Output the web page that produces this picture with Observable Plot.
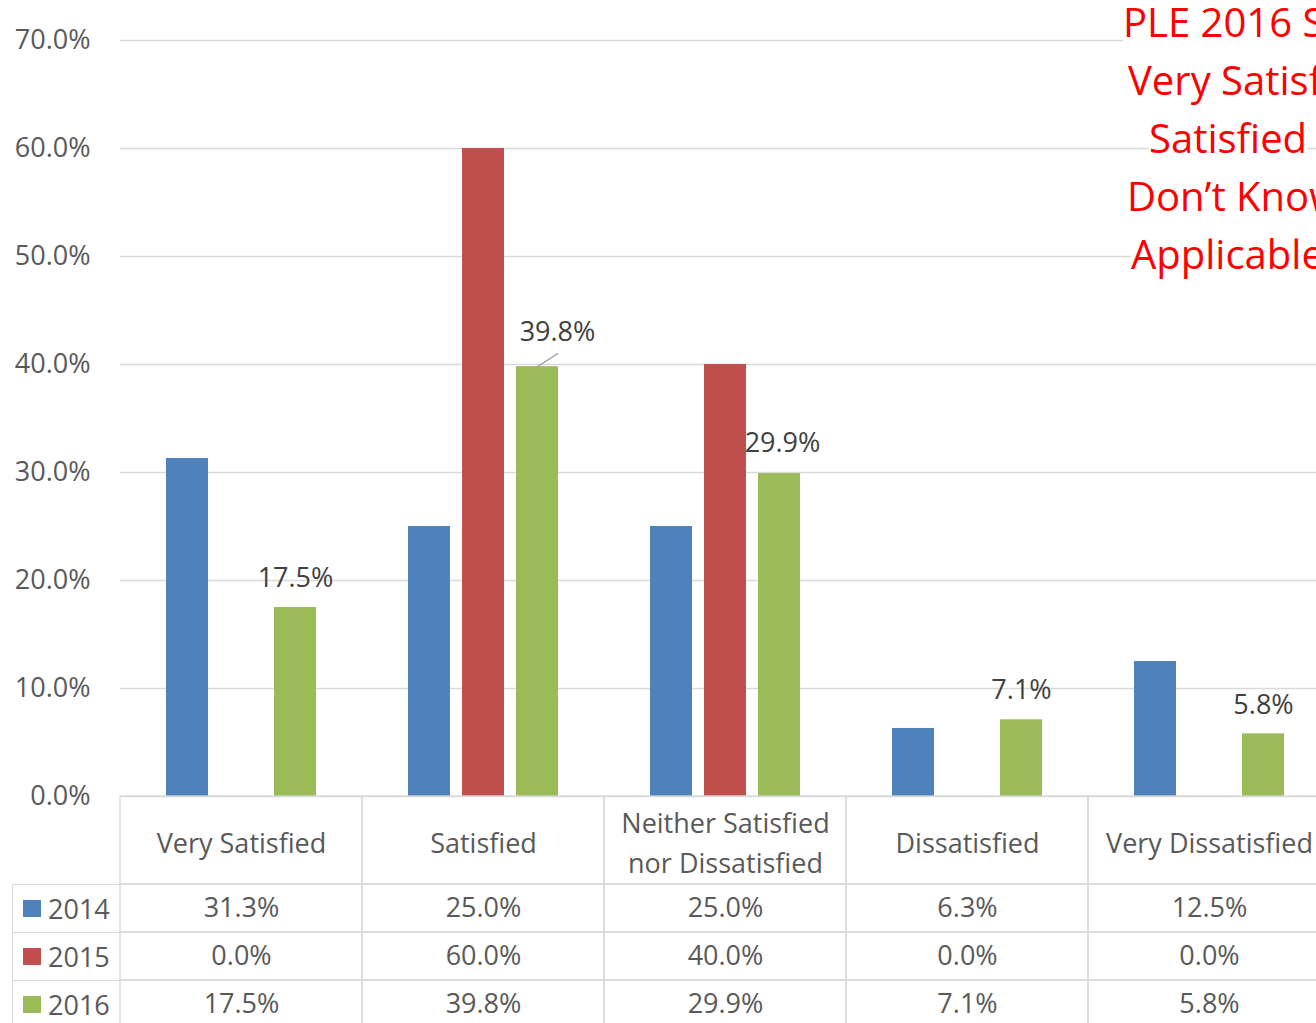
<!DOCTYPE html>
<html><head><meta charset="utf-8">
<script src="https://cdn.jsdelivr.net/npm/d3@7"></script>
<script src="https://cdn.jsdelivr.net/npm/@observablehq/plot@0.6"></script>
<style>
html,body{margin:0;padding:0;background:#fff;overflow:hidden;width:1316px;height:1023px}
body{position:relative;font-family:"Open Sans",sans-serif}
svg{max-width:none!important}
#chart,#header,#rows{position:absolute;left:0}
#chart{top:0}#header{top:796px}#rows{top:884px}
#legend{position:absolute;left:12px;top:884px;width:108px}
.lrow{height:48px;border-left:1.3px solid #d9d9d9;border-top:1.3px solid #d9d9d9;box-sizing:border-box;display:flex;align-items:center;font-size:27px;color:#595959}
.sw{width:18px;height:17px;margin-left:10px;margin-right:7px;flex:none}
#note{position:absolute;left:0;top:-7px;color:#ff0000;font-size:40px;line-height:58px;white-space:nowrap}
#note div span{background:#fff}
</style></head><body>
<div id="chart"></div><div id="header"></div><div id="rows"></div><div id="legend"></div><div id="note"></div>
<script>
const categories = ["Very Satisfied","Satisfied","Neither Satisfied\nnor Dissatisfied","Dissatisfied","Very Dissatisfied"];
const years = ["2014","2015","2016"];
const v2014 = [31.3,25.0,25.0,6.3,12.5];
const v2015 = [0.0,60.0,40.0,0.0,0.0];
const v2016 = [17.5,39.8,29.9,7.1,5.8];
const yTicks = [0,10,20,30,40,50,60,70];
const colors = ["#4f81bd","#c0504d","#9bbb59"];
const noteLines = ["PLE 2016 Survey","Very Satisfied +","Satisfied","Don\u2019t Know / Not","Applicable"];
const noteIndent = [1123,1128,1149,1127,1131];
const labelDx = [0,20,3,0,0];
const labelDy = [-29,-34,-30,-29,-29];

const series = [v2014,v2015,v2016];
const fmt = d => d.toFixed(1) + "%";
const grid = "#d9d9d9";
const font = {fontFamily:'"Open Sans", sans-serif', fontSize:"27px", color:"#595959", background:"transparent", overflow:"visible", maxWidth:"none"};
const xScale = {type:"band", domain:categories, padding:0, axis:null};
const offsets = [-54,0,54];

const marks = [
  Plot.gridY(yTicks, {stroke:grid, strokeOpacity:1, strokeWidth:1.3}),
  Plot.axisY(yTicks, {label:null, tickSize:0, tickPadding:30, tickFormat:fmt, fontSize:27, fill:"#595959"})
];
series.forEach((s,k) => {
  const data = s.map((v,i) => ({cat:categories[i], v}));
  marks.push(Plot.barY(data, {x:"cat", y:"v", fill:colors[k], insetLeft:100, insetRight:100, dx:offsets[k]}));
});
v2016.forEach((v,i) => {
  marks.push(Plot.text([{cat:categories[i], v}], {x:"cat", y:"v", text:d=>fmt(d.v), dx:54+labelDx[i], dy:labelDy[i], fill:"#404040", fontSize:27}));
});
marks.push(Plot.vector([{cat:categories[1], v:v2016[1]}], {x:"cat", y:"v", dx:54, length:24, rotate:57, anchor:"start", stroke:"#a6a6a6", strokeWidth:1.3,
  shape:{draw(ctx,l){ctx.moveTo(0,0);ctx.lineTo(0,-l);}}}));

document.getElementById("chart").append(Plot.plot({
  width:1330, height:797, marginLeft:120, marginRight:0, marginTop:40, marginBottom:1,
  x:xScale, y:{domain:[0,70], axis:null, label:null}, style:font, marks
}));

document.getElementById("header").append(Plot.plot({
  width:1330, height:88, marginLeft:120, marginRight:0, marginTop:0, marginBottom:0,
  x:xScale, style:font,
  marks:[
    Plot.cell(categories, {x:d=>d, fill:"none", stroke:grid, strokeWidth:1.3}),
    Plot.text(categories, {x:d=>d, text:d=>d, frameAnchor:"middle", lineHeight:1.45, fontSize:27, fill:"#595959"})
  ]
}));

const rows = years.flatMap((y,k) => categories.map((c,i) => ({year:y, cat:c, v:series[k][i]})));
document.getElementById("rows").append(Plot.plot({
  width:1330, height:144, marginLeft:120, marginRight:0, marginTop:0, marginBottom:0,
  x:xScale, y:{type:"band", domain:years, padding:0, axis:null}, style:font,
  marks:[
    Plot.cell(rows, {x:"cat", y:"year", fill:"none", stroke:grid, strokeWidth:1.3}),
    Plot.text(rows, {x:"cat", y:"year", text:d=>fmt(d.v), fontSize:27, fill:"#595959"})
  ]
}));

const legend = document.getElementById("legend");
years.forEach((y,k) => {
  const r = document.createElement("div"); r.className = "lrow";
  const sw = document.createElement("div"); sw.className = "sw"; sw.style.background = colors[k];
  const t = document.createElement("span"); t.textContent = y;
  r.append(sw, t); legend.append(r);
});

const note = document.getElementById("note");
noteLines.forEach((l,i) => {
  const d = document.createElement("div"); d.style.marginLeft = noteIndent[i] + "px";
  const s = document.createElement("span"); s.textContent = l; d.append(s); note.append(d);
});
</script>
</body></html>
